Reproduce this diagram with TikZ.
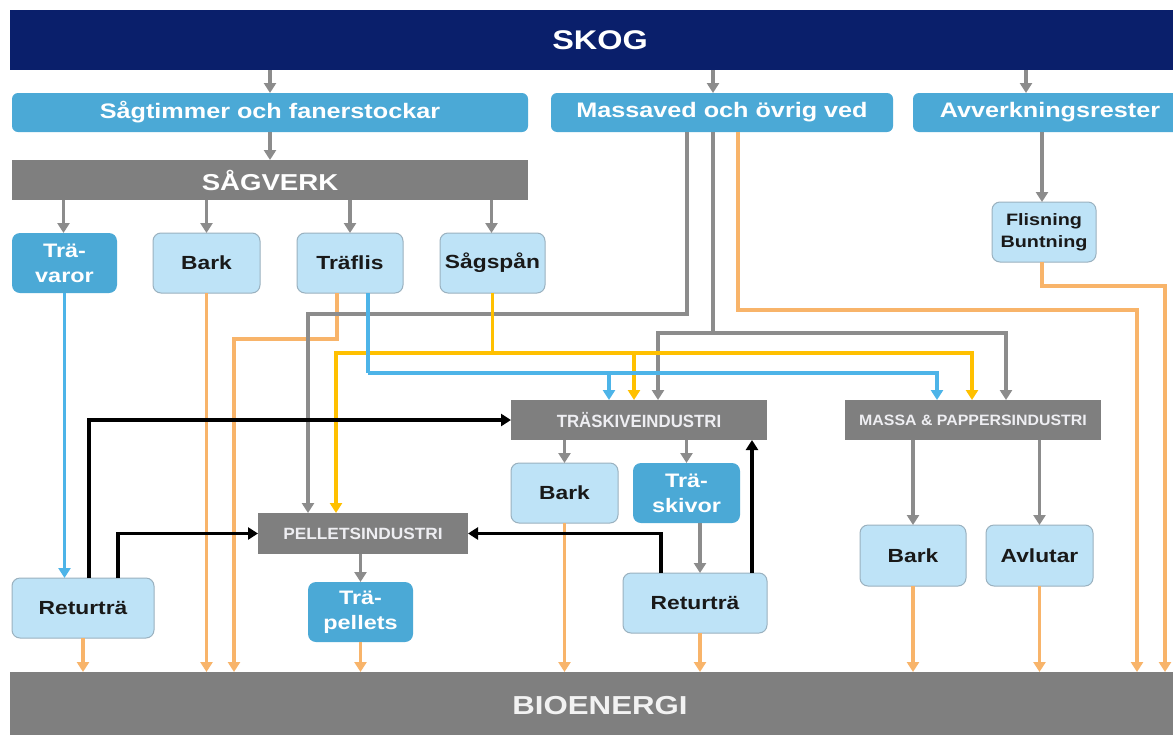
\documentclass[tikz,border=0pt]{standalone}
\usepackage{fontspec}
\setmainfont{Liberation Sans}
\newfontfamily\wf{Liberation Sans}[FakeStretch=1.2]
\newfontfamily\nrwf{Liberation Sans}[FakeStretch=0.95]
\newfontfamily\spwf{Liberation Sans}[FakeStretch=1.06]
\usetikzlibrary{arrows.meta,calc}
\definecolor{navy}{HTML}{0A1F6B}
\definecolor{mblue}{HTML}{4BA9D6}
\definecolor{lblue}{HTML}{BEE3F7}
\definecolor{lborder}{HTML}{9AB1BF}
\definecolor{barg}{HTML}{7F7F7F}
\definecolor{lineg}{HTML}{8C8C8C}
\definecolor{lorange}{HTML}{F8B46A}
\definecolor{lyellow}{HTML}{FFC000}
\definecolor{lbl}{HTML}{4DB4E8}
\definecolor{indtext}{HTML}{EEEEF2}
\begin{document}
\begin{tikzpicture}[x=1pt,y=-1pt,
  base/.style={inner sep=0pt,outer sep=0pt,align=center},
  topbox/.style={base,rounded corners=6pt,fill=mblue,text=white,font=\wf\bfseries\fontsize{21}{24}\selectfont},
  lbox/.style={base,rounded corners=8pt,fill=lblue,draw=lborder,line width=1pt,text=black!90,font=\wf\bfseries\fontsize{19}{25}\selectfont},
  dbox/.style={base,rounded corners=8pt,fill=mblue,text=white,font=\wf\bfseries\fontsize{19.5}{25}\selectfont},
  gbar/.style={base,fill=barg,text=white},
  ind/.style={gbar,text=indtext},
  tip/.style={-{Triangle[length=10pt,width=12pt]}},
  gl/.style={draw=lineg,line width=3.2pt},
  ga/.style={gl,tip},
  ol/.style={draw=lorange,line width=3.2pt},
  oa/.style={ol,tip},
  yl/.style={draw=lyellow,line width=3.2pt},
  ya/.style={yl,tip},
  bl/.style={draw=lbl,line width=3.2pt},
  ba/.style={bl,tip},
  kl/.style={draw=black,line width=3.4pt},
  ka/.style={kl,tip}]
\useasboundingbox (0,0) rectangle (1173,734);
\fill[white] (0,0) rectangle (1173,734);

% bars
\node[gbar,fill=navy,minimum width=1180pt,minimum height=60pt,font=\wf\bfseries\fontsize{27}{30}\selectfont] (skog) at (600,40) {SKOG};
\node[gbar,minimum width=1180pt,minimum height=68pt,font=\wf\bfseries\fontsize{26}{30}\selectfont,text=white!95!black] (bio) at (600,706) {BIOENERGI};

% top boxes
\node[topbox,minimum width=516pt,minimum height=39pt] (stim) at (270,112.5) {Sågtimmer och fanerstockar};
\node[topbox,minimum width=342pt,minimum height=39pt] (mass) at (722,112.5) {Massaved och övrig ved};
\node[topbox,minimum width=274pt,minimum height=39pt] (avv) at (1050,112.5) {Avverkningsrester};

\node[gbar,minimum width=516pt,minimum height=40pt,font=\wf\bfseries\fontsize{23}{26}\selectfont] (sag) at (270,180) {SÅGVERK};

% sawmill products
\node[dbox,minimum width=105pt,minimum height=60pt] (trv) at (64.5,263) {Trä-\\varor};
\node[lbox,minimum width=107pt,minimum height=60pt] (bark1) at (206.5,263) {Bark};
\node[lbox,minimum width=106pt,minimum height=60pt] (trflis) at (350,263) {Träflis};
\node[lbox,minimum width=105pt,minimum height=60pt] (sagsp) at (492.5,263) {Sågspån};
\node[lbox,minimum width=104pt,minimum height=60pt,font=\wf\bfseries\fontsize{16.5}{22}\selectfont] (flis) at (1044,232) {Flisning\\Buntning};

% industries
\node[ind,minimum width=256pt,minimum height=40pt,font=\nrwf\bfseries\fontsize{17.7}{20}\selectfont] (trask) at (639,420) {TRÄSKIVEINDUSTRI};
\node[ind,minimum width=256pt,minimum height=40pt,font=\spwf\bfseries\fontsize{15}{20}\selectfont] (mpi) at (973,420) {MASSA \& PAPPERSINDUSTRI};
\node[ind,minimum width=210pt,minimum height=41pt,font=\spwf\bfseries\fontsize{16.3}{20}\selectfont] (pel) at (363,533.5) {PELLETSINDUSTRI};

% lower boxes
\node[lbox,minimum width=107pt,minimum height=60pt] (bark2) at (564.5,493) {Bark};
\node[dbox,minimum width=107pt,minimum height=60pt] (trsk) at (686.5,493) {Trä-\\skivor};
\node[lbox,minimum width=144pt,minimum height=60pt] (retR) at (695,603) {Returträ};
\node[lbox,minimum width=106pt,minimum height=61pt] (bark3) at (913,555.5) {Bark};
\node[lbox,minimum width=107pt,minimum height=61pt] (avl) at (1039.5,555.5) {Avlutar};
\node[lbox,minimum width=142pt,minimum height=60pt] (retL) at (83,608) {Returträ};
\node[dbox,minimum width=105pt,minimum height=60pt] (trp) at (360.5,612) {Trä-\\pellets};

% ---- gray connectors
\draw[ga] (stim.north |- skog.south) -- (stim.north);
\draw[ga] ([xshift=-9pt]mass.north |- skog.south) -- ([xshift=-9pt]mass.north);
\draw[ga] ([xshift=-24pt]avv.north |- skog.south) -- ([xshift=-24pt]avv.north);
\draw[ga] (stim.south) -- (stim.south |- sag.north);
\draw[ga] ([xshift=-1pt]trv.north |- sag.south) -- ([xshift=-1pt]trv.north);
\draw[ga] (bark1.north |- sag.south) -- (bark1.north);
\draw[ga] (trflis.north |- sag.south) -- (trflis.north);
\draw[ga] ([xshift=-1pt]sagsp.north |- sag.south) -- ([xshift=-1pt]sagsp.north);
\draw[ga] ([xshift=-2pt]flis.north |- avv.south) -- ([xshift=-2pt]flis.north);
\draw[ga] (bark2.north |- trask.south) -- (bark2.north);
\draw[ga] (trsk.north |- trask.south) -- (trsk.north);
\draw[ga] (bark3.north |- mpi.south) -- (bark3.north);
\draw[ga] (avl.north |- mpi.south) -- (avl.north);
\draw[ga] ([xshift=13.5pt]trsk.south) -- ([xshift=13.5pt]trsk.south |- retR.north);
\draw[ga] (trp.north |- pel.south) -- (trp.north);

% ---- orange connectors to BIOENERGI
\draw[oa] (retL.south) -- (retL.south |- bio.north);
\draw[oa] (bark1.south) -- (bark1.south |- bio.north);
\draw[oa] ([xshift=-13pt]trflis.south) -- ++(0,46) -| ([xshift=-366pt]bio.north);
\draw[oa] (trp.south) -- (trp.south |- bio.north);
\draw[oa] (bark2.south) -- (bark2.south |- bio.north);
\draw[oa] ([xshift=5pt]retR.south) -- ([xshift=5pt]retR.south |- bio.north);
\draw[oa] (bark3.south) -- (bark3.south |- bio.north);
\draw[oa] (avl.south) -- (avl.south |- bio.north);
\draw[oa] ([xshift=16pt]mass.south) -- ++(0,178) -| ([xshift=537pt]bio.north);
\draw[oa] ([xshift=-2pt]flis.south) -- ++(0,24) -| ([xshift=565pt]bio.north);

% ---- gray from Massaved
\draw[ga] ([xshift=-35pt]mass.south) -- ++(0,182) -| ([xshift=-55pt]pel.north);
\draw[gl] ([xshift=-9pt]mass.south) -- ++(0,201) coordinate (g2);
\draw[ga] (g2) -| ([xshift=19pt]trask.north);
\draw[ga] (g2) -| ([xshift=33pt]mpi.north);

% ---- yellow from Sågspån
\draw[yl] (sagsp.south) -- ++(0,60) coordinate (ys);
\draw[ya] (ys) -| ([xshift=-27pt]pel.north);
\draw[ya] (ys) -| ([xshift=-5pt]trask.north);
\draw[ya] (ys) -| ([xshift=-1pt]mpi.north);

% ---- blue
\draw[ba] (trv.south) -- (trv.south |- retL.north);
\draw[bl] ([xshift=18pt]trflis.south) -- ++(0,80) coordinate (bs);
\draw[ba] (bs) -| ([xshift=-30pt]trask.north);
\draw[ba] (bs) -| ([xshift=-36pt]mpi.north);

% ---- black (returträ)
\draw[ka] ([xshift=6pt]retL.north) |- (trask.west);
\draw[ka] ([xshift=35pt]retL.north) |- (pel.west);
\draw[ka] ([xshift=-34pt]retR.north) |- (pel.east);
\draw[ka] ([xshift=57pt]retR.north) -- ([xshift=57pt]retR.north |- trask.south);
\end{tikzpicture}
\end{document}
